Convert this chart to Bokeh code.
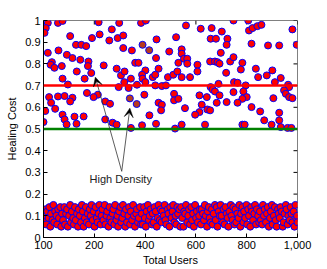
from math import pi
from bokeh.plotting import figure
from bokeh.models import (Range1d, FixedTicker, NumeralTickFormatter,
                          Span, Arrow, VeeHead, Label)
from bokeh.embed import file_html
from bokeh.resources import INLINE

# ---------------- data ----------------
upper_x = [17, 9, 4, 57, 75, 217, 105, 191, 221, 128, 149, 168, 17, 59, 92, 114, 145, 177, 33, 28,
           43, 72, 175, 131, 188, 162, 75, 96, 237, 171, 214, 22, 57, 83, 114, 105, 30, 46, 7, 75,
           122, 158, 83, 91, 130, 0, 243, 197,
           298, 269, 259, 292, 314, 384, 403, 445, 314, 348, 443, 495, 288, 305, 319, 361, 374, 401,
           388, 390, 430, 440, 453, 344, 318, 296, 335, 368, 401, 440, 466, 482, 490, 397, 453, 466,
           463, 243, 262, 417, 388, 443, 272, 288, 344,
           561, 619, 662, 702, 748, 522, 658, 679, 724, 721, 544, 544, 553, 566, 531, 566, 606, 656,
           675, 685, 693, 698, 735, 748, 606, 719, 511, 527, 544, 577, 658, 666, 689, 675, 693, 514,
           514, 531, 614, 643, 682, 721, 623, 557, 614, 597, 645, 656, 636, 544, 518, 748,
           806, 809, 823, 842, 858, 980, 819, 884, 928, 997, 783, 777, 836, 845, 879, 901, 934, 911,
           750, 764, 796, 963, 967, 947, 954, 967, 980, 787, 800, 783, 764, 905, 819, 853, 928, 869,
           928, 898, 783, 792, 934, 961, 976]
upper_y = [0.989, 0.965, 0.943, 0.989, 0.998, 0.992, 0.928, 0.919, 0.936, 0.888, 0.888, 0.882, 0.851,
           0.862, 0.842, 0.827, 0.819, 0.811, 0.808, 0.796, 0.782, 0.790, 0.790, 0.765, 0.758, 0.732,
           0.732, 0.705, 0.793, 0.666, 0.658, 0.647, 0.650, 0.652, 0.644, 0.627, 0.621, 0.593, 0.583,
           0.566, 0.557, 0.558, 0.544, 0.521, 0.524, 0.532, 0.544, 0.647,
           0.989, 0.959, 0.908, 0.919, 0.931, 0.989, 1.0, 0.913, 0.873, 0.862, 0.827, 0.857, 0.778,
           0.747, 0.765, 0.805, 0.805, 0.770, 0.750, 0.732, 0.739, 0.750, 0.778, 0.732, 0.716, 0.693,
           0.689, 0.704, 0.716, 0.701, 0.698, 0.701, 0.739, 0.658, 0.621, 0.612, 0.586, 0.627, 0.616,
           0.563, 0.517, 0.524, 0.529, 0.520, 0.505,
           0.977, 0.962, 0.965, 0.949, 1.0, 0.923, 0.916, 0.916, 0.916, 0.888, 0.867, 0.847, 0.824,
           0.824, 0.805, 0.801, 0.796, 0.811, 0.811, 0.808, 0.801, 0.851, 0.811, 0.831, 0.765, 0.759,
           0.750, 0.765, 0.739, 0.739, 0.693, 0.682, 0.708, 0.673, 0.655, 0.662, 0.632, 0.639, 0.655,
           0.647, 0.621, 0.624, 0.612, 0.596, 0.578, 0.566, 0.590, 0.586, 0.520, 0.520, 0.502, 0.670,
           1.0, 0.954, 0.965, 0.974, 0.980, 0.959, 0.893, 0.885, 0.885, 0.888, 0.805, 0.774, 0.778,
           0.739, 0.747, 0.770, 0.735, 0.716, 0.716, 0.713, 0.701, 0.704, 0.693, 0.678, 0.662, 0.647,
           0.642, 0.673, 0.647, 0.639, 0.621, 0.642, 0.601, 0.581, 0.575, 0.540, 0.540, 0.520, 0.520,
           0.520, 0.509, 0.505, 0.505]

dense_x = [390, 416, 340, 367]
dense_y = [0.888, 0.863, 0.641, 0.615]

lower_x = [0, 3, 8, 11, 15, 20, 23, 27, 30, 35, 39, 42, 46, 51, 54, 58, 61, 66, 70, 73,
           77, 82, 85, 89, 93, 96, 101, 105, 108, 112, 117, 120, 124, 127, 132, 136, 139, 143, 148, 151,
           155, 158, 163, 167, 170, 174, 179, 182, 186, 189, 194, 198, 201, 205, 210, 213, 217, 220, 225, 229,
           232, 236, 241, 244, 248, 251, 256, 260, 263, 267, 272, 275, 279, 282, 287, 291, 294, 298, 303, 306,
           310, 313, 318, 322, 325, 329, 334, 337, 341, 344, 349, 353, 356, 360, 365, 368, 372, 375, 380, 384,
           387, 391, 396, 399, 403, 406, 411, 415, 418, 422, 427, 430, 434, 437, 442, 446, 449, 453, 458, 461,
           465, 468, 473, 477, 480, 484, 489, 492, 496, 499, 504, 508, 511, 515, 520, 523, 527, 530, 535, 539,
           542, 546, 551, 554, 558, 561, 566, 570, 573, 577, 582, 585, 589, 592, 597, 601, 604, 608, 613, 616,
           620, 623, 628, 632, 635, 639, 644, 647, 651, 654, 659, 663, 666, 670, 675, 678, 682, 685, 690, 694,
           697, 701, 706, 709, 713, 716, 721, 725, 728, 732, 737, 740, 744, 747, 752, 756, 759, 763, 768, 771,
           775, 778, 783, 787, 790, 794, 799, 802, 806, 809, 814, 818, 821, 825, 830, 833, 837, 840, 845, 849,
           852, 856, 861, 864, 868, 871, 876, 880, 883, 887, 892, 895, 899, 902, 907, 911, 914, 918, 923, 926,
           930, 933, 938, 942, 945, 949, 954, 957, 961, 964, 969, 973, 976, 980, 985, 988, 992, 995, 998, 1000]
lower_y = [0.10, 0.07, 0.13, 0.06, 0.12, 0.09, 0.14, 0.05, 0.11, 0.08, 0.15, 0.07, 0.12, 0.10, 0.06, 0.13, 0.09, 0.14, 0.05, 0.11,
           0.08, 0.14, 0.06, 0.11, 0.13, 0.05, 0.10, 0.15, 0.07, 0.12, 0.09, 0.06, 0.14, 0.08, 0.11, 0.05, 0.13, 0.10, 0.07, 0.15,
           0.12, 0.05, 0.09, 0.14, 0.07, 0.11, 0.06, 0.13, 0.10, 0.15, 0.08, 0.12, 0.05, 0.14, 0.09, 0.07, 0.11, 0.15, 0.06, 0.10,
           0.13, 0.08, 0.15, 0.06, 0.10, 0.12, 0.05, 0.14, 0.09, 0.07, 0.11, 0.13, 0.06, 0.15, 0.08, 0.10, 0.05, 0.12, 0.14, 0.07,
           0.09, 0.15, 0.11, 0.05, 0.13, 0.07, 0.10, 0.14, 0.06, 0.12, 0.08, 0.15, 0.10, 0.05, 0.11, 0.13, 0.07, 0.09, 0.14, 0.06,
           0.11, 0.06, 0.14, 0.09, 0.05, 0.12, 0.15, 0.08, 0.10, 0.13, 0.06, 0.11, 0.07, 0.14, 0.12, 0.05, 0.09, 0.15, 0.08, 0.13,
           0.07, 0.12, 0.10, 0.15, 0.08, 0.06, 0.13, 0.11, 0.05, 0.14, 0.09, 0.12, 0.15, 0.07, 0.10, 0.06, 0.14, 0.11, 0.13, 0.05,
           0.14, 0.09, 0.05, 0.12, 0.11, 0.15, 0.07, 0.10, 0.13, 0.06, 0.14, 0.08, 0.11, 0.05, 0.15, 0.09, 0.12, 0.07, 0.10, 0.13,
           0.06, 0.13, 0.11, 0.08, 0.15, 0.10, 0.05, 0.12, 0.14, 0.09, 0.07, 0.13, 0.06, 0.11, 0.15, 0.08, 0.14, 0.05, 0.12, 0.10,
           0.15, 0.10, 0.07, 0.13, 0.06, 0.14, 0.11, 0.09, 0.05, 0.12, 0.15, 0.10, 0.08, 0.14, 0.06, 0.13, 0.07, 0.11, 0.09, 0.15,
           0.05, 0.11, 0.14, 0.07, 0.12, 0.09, 0.15, 0.06, 0.13, 0.10, 0.05, 0.14, 0.12, 0.08, 0.11, 0.15, 0.06, 0.13, 0.10, 0.07,
           0.12, 0.08, 0.06, 0.15, 0.10, 0.13, 0.07, 0.11, 0.14, 0.05, 0.09, 0.12, 0.15, 0.06, 0.10, 0.14, 0.08, 0.05, 0.13, 0.11,
           0.09, 0.14, 0.12, 0.05, 0.07, 0.11, 0.15, 0.13, 0.06, 0.10, 0.08, 0.14, 0.11, 0.07, 0.12, 0.05, 0.15, 0.09, 0.10, 0.07]

red_threshold = 0.7
green_threshold = 0.5

x_ticks = [0, 200, 400, 600, 800, 1000]
x_tick_labels = ["100", "200", "400", "600", "800", "1,000"]
y_ticks = [0, 0.1, 0.2, 0.3, 0.4, 0.5, 0.6, 0.7, 0.8, 0.9, 1.0]

annot_text = "High Density"
annot_pos = (304, 0.297)
arrow_tail = (308, 0.305)
arrow_tips = [(204, 0.739), (340, 0.596)]

FONT = "Liberation Sans"

# ---------------- figure ----------------
p = figure(width=327, height=269, x_range=Range1d(0, 1000), y_range=Range1d(0, 1),
           output_backend="svg", toolbar_location=None,
           min_border_left=43, min_border_right=30, min_border_top=20, min_border_bottom=32)
p.grid.visible = False
p.outline_line_color = "#808080"
p.outline_line_width = 1

def style_axis(ax):
    ax.major_tick_in = 4
    ax.major_tick_out = 0
    ax.minor_tick_line_color = None
    ax.axis_line_color = "black"
    ax.major_tick_line_color = "black"
    ax.major_label_text_font = FONT
    ax.major_label_text_font_size = "11px"
    ax.major_label_text_color = "black"
    ax.major_label_standoff = 3
    ax.axis_label_text_font = FONT
    ax.axis_label_text_font_size = "11px"
    ax.axis_label_text_font_style = "normal"
    ax.axis_label_text_color = "black"

xa = p.xaxis[0]
xa.ticker = FixedTicker(ticks=x_ticks)
xa.major_label_overrides = {t: l for t, l in zip(x_ticks, x_tick_labels)}
xa.axis_label = "Total Users"
style_axis(xa)
xa.axis_label_standoff = 2

ya = p.yaxis[0]
ya.ticker = FixedTicker(ticks=y_ticks)
ya.formatter = NumeralTickFormatter(format="0.[0]")
ya.axis_label = "Healing Cost"
style_axis(ya)
ya.axis_label_standoff = 4

# inward ticks on the right and top edges of the box
p.ray(x=[x_ticks[-1]] * len(y_ticks), y=y_ticks, length=4, length_units="screen",
      angle=pi, line_color="black", line_width=1)
p.ray(x=x_ticks, y=[y_ticks[-1]] * len(x_ticks), length=4, length_units="screen",
      angle=-pi / 2, line_color="black", line_width=1)

# points
p.scatter(lower_x, lower_y, size=7, fill_color="#ff0000", line_color="#0000ff", line_width=1)
p.scatter(upper_x, upper_y, size=7, fill_color="#ff0000", line_color="#0000ff", line_width=1)
p.scatter(dense_x, dense_y, size=7, fill_color="#b83a1e", line_color="#0000ff", line_width=1)

# threshold lines
p.add_layout(Span(location=red_threshold, dimension="width", line_color="#ff0000", line_width=2.5))
p.add_layout(Span(location=green_threshold, dimension="width", line_color="#008000", line_width=2.5))

# annotation
for tx, ty in arrow_tips:
    p.add_layout(Arrow(end=VeeHead(size=9, fill_color="black", line_color="black", line_width=0.5),
                       x_start=arrow_tail[0], y_start=arrow_tail[1], x_end=tx, y_end=ty,
                       line_color="#333333", line_width=0.8))
p.add_layout(Label(x=annot_pos[0], y=annot_pos[1], text=annot_text, text_align="center",
                   text_baseline="top", text_font=FONT, text_font_size="11px", text_color="#222222"))

open("out.html", "w").write(file_html(p, INLINE))
